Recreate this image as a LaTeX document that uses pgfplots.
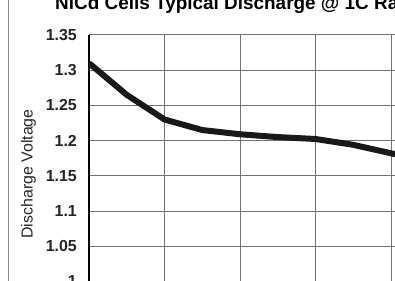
\documentclass[border=0pt]{standalone}
\usepackage{fontspec}
\setmainfont{Liberation Sans}
\usepackage{pgfplots}
\pgfplotsset{compat=1.18}
\begin{document}
\begin{tikzpicture}[x=1bp,y=1bp]
\useasboundingbox (0,0) rectangle (395,281);
\clip (0,0) rectangle (395,281);
\fill[white] (0,0) rectangle (395,281);
\draw[black!45, line width=1bp] (8.5,0) -- (8.5,281);
\node[anchor=base west, inner sep=0pt, font=\fontsize{19}{22}\selectfont\bfseries] at (55,271.5) {NiCd Cells Typical Discharge @ 1C Rate};
\node[rotate=90, inner sep=0pt, font=\fontsize{16}{18}\selectfont, text=black!85] at (28.5,107) {Discharge Voltage};
\begin{axis}[
  at={(89bp,246bp)}, anchor=north west,
  scale only axis,
  width=306bp, height=260.5bp,
  xmin=0, xmax=40.53, ymin=0.98, ymax=1.35,
  xtick={0,10,20,30,40},
  xticklabels={},
  ytick={1,1.05,1.1,1.15,1.2,1.25,1.3,1.35},
  major tick length=0pt,
  grid=major,
  major grid style={black!55, line width=1bp},
  axis y line=left,
  y axis line style={black, line width=2bp, -},
  x axis line style={draw=none},
  /pgf/number format/assume math mode=true,
  yticklabel style={font=\fontsize{16}{18}\selectfont\bfseries, inner sep=0pt, xshift=-12bp, text=black!85},
  clip=true,
]
\addplot[black!90, line width=6bp, line join=round, line cap=butt] coordinates {
(0,1.310) (5,1.265) (10,1.230) (15,1.215) (20,1.209) (25,1.205) (30,1.2023) (35,1.194) (40,1.182) (40.6,1.1805)
};
\end{axis}
\end{tikzpicture}
\end{document}
